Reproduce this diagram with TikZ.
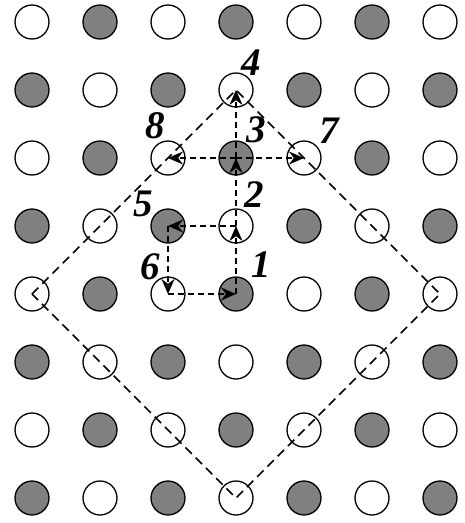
\documentclass[tikz,border=0pt]{standalone}
\usepackage{fontspec}
\setmainfont{Liberation Serif}
\usetikzlibrary{arrows.meta}
\begin{document}
\begin{tikzpicture}[x=1pt,y=-1pt,
  site/.style={circle,draw=black,line width=1.3pt,minimum size=34pt,inner sep=0pt},
  wsite/.style={site,fill=white},
  gsite/.style={site,fill=gray},
  diam/.style={line width=1.7pt,dash pattern=on 9pt off 5.5pt},
  hop/.style={line width=1.7pt,dash pattern=on 6pt off 4pt,-{Stealth[length=15pt,width=13pt]}},
  num/.style={font=\fontsize{39}{39}\selectfont\bfseries\itshape,inner sep=0pt}]
\useasboundingbox (0,0) rectangle (464,523);
\foreach \c in {0,...,6}{
  \foreach \r in {0,...,7}{
    \pgfmathtruncatemacro{\p}{mod(\c+\r,2)}
    \ifnum\p=0
      \node[wsite] (c-\c-\r) at ({32+68*\c},{22+68*\r}) {};
    \else
      \node[gsite] (c-\c-\r) at ({32+68*\c},{22+68*\r}) {};
    \fi
  }
}
% diamond
\draw[diam] (c-0-4.center) -- (c-3-1.center) -- (c-6-4.center) -- (c-3-7.center) -- cycle;
% hops
\draw[hop] (c-3-4.center) -- (c-3-3.center);
\draw[hop] (c-3-3.center) -- (c-3-2.center);
\draw[hop] (c-3-2.center) -- (c-3-1.center);
\draw[hop] (c-3-2.center) -- (c-2-2.center);
\draw[hop] (c-3-2.center) -- (c-4-2.center);
\draw[hop] (c-3-3.center) -- (c-2-3.center);
\draw[hop] (c-2-3.center) -- (c-2-4.center);
\draw[hop] (c-2-4.center) -- (c-3-4.center);
% labels
\node[num] (l1) at (261,265) {1};
\node[num] (l2) at (254,195) {2};
\node[num] (l3) at (256,130) {3};
\node[num] (l4) at (251,63) {4};
\node[num] (l5) at (143,204) {5};
\node[num] (l6) at (150,267) {6};
\node[num] (l7) at (329,131) {7};
\node[num] (l8) at (155,126) {8};
\end{tikzpicture}
\end{document}
